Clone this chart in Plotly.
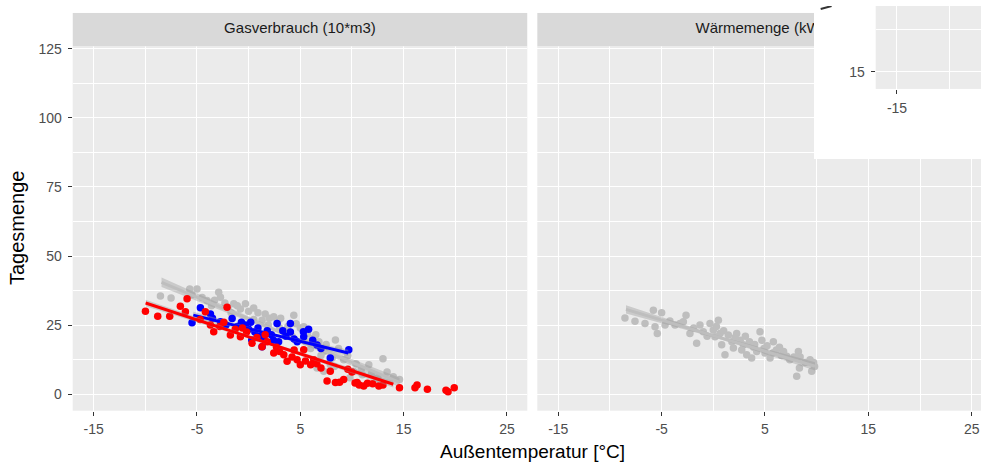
import plotly.graph_objects as go

W, H = 981, 464

# ---------------- data ----------------
# Gas consumption panel: all days (grey), season A (blue), season B (red)
gas_all_t = [-8.54, -7.51, -5.7, -5.0, -5.5, -4.5, -4.03, -3.6, -2.9, -2.73, -2.3, -2.0, -1.44,
             -1.1, -0.8, -0.31, 0.0, 0.49, 0.9, 1.3, 1.6, 2.0, 2.43, 2.8, 3.1, 3.4, 3.8, 4.37,
             4.6, 5.0, 5.33, 5.7, 6.14, 6.5, 6.8, 7.27, 7.5, 8.08, 8.4, 8.7, 9.2, 9.6, 10.17,
             10.4, 10.9, 11.63, 11.9, 12.5, 13.0, 13.4, 14.0, 14.6, 6.62, 7.27, 7.9, 8.3, 9.8,
             11.0, 12.4, -3.3, -1.7, 0.5, 1.9, 3.0, 4.2, 5.5, 6.0, 7.0]
gas_all_v = [35.5, 34.8, 38.1, 38.1, 36.0, 35.0, 33.9, 32.0, 36.9, 35.1, 33.0, 31.5, 32.7,
             32.0, 30.8, 32.7, 30.0, 31.2, 29.5, 26.8, 29.0, 27.5, 28.0, 26.0, 27.5, 22.6,
             24.5, 28.6, 25.5, 24.0, 24.4, 22.0, 20.2, 21.5, 19.0, 15.5, 18.0, 13.1, 19.6,
             16.5, 12.5, 14.0, 8.3, 11.0, 9.0, 10.7, 7.5, 6.0, 12.8, 8.0, 6.3, 5.3, 9.5, 8.3,
             10.7, 10.0, 6.0, 7.0, 5.0, 34.0, 29.5, 27.0, 25.0, 24.0, 21.0, 19.0, 16.5, 14.0]

gas_a_t = [-5.48, -4.67, -3.7, -3.5, -2.73, -2.2, -1.6, -1.1, -0.7, -0.31, 0.0, 0.2, 0.3, 0.6,
           0.9, 1.1, 1.46, 1.3, 1.8, 2.2, 2.4, 2.75, 2.9, 3.3, 3.6, 4.04, 4.04, 4.4, 4.7, 5.33,
           5.3, 5.8, 6.2, 6.62, 7.0, 7.9, 9.69]
gas_a_v = [25.9, 31.3, 29.0, 27.5, 26.2, 25.0, 27.4, 24.5, 26.0, 25.0, 23.5, 26.0, 19.6, 22.5,
           24.0, 21.0, 20.2, 17.2, 23.0, 21.5, 19.5, 25.6, 19.0, 23.0, 21.0, 25.6, 22.5, 20.0,
           19.0, 20.8, 22.6, 23.5, 19.5, 17.8, 16.5, 13.1, 16.1]

gas_b_t = [-9.99, -8.8, -7.64, -6.61, -5.96, -6.12, -4.19, -3.7, -3.38, -2.8, -2.09, -2.4,
           -1.77, -1.3, -0.8, -0.2, 0.33, 0.8, 1.3, 1.8, 2.43, 2.7, 3.0, 3.4, 3.72, 4.2, 4.69,
           5.0, 5.33, 5.5, 6.0, 6.3, 6.6, 7.0, 7.59, 7.9, 8.4, 8.8, 9.2, 9.6, 10.0, 10.3, 10.5,
           10.7, 11.14, 11.5, 12.0, 12.6, 13.0, 14.6, 16.1, 16.3, 17.3, 19.1, 19.3, 19.9,
           -4.7, -0.6, 1.6, 4.4]
gas_b_v = [30.0, 28.2, 28.2, 31.8, 34.5, 29.8, 29.8, 25.0, 22.6, 24.5, 31.5, 26.0, 21.4,
           23.5, 20.8, 22.5, 18.4, 20.5, 17.2, 19.0, 14.9, 17.0, 15.5, 14.3, 11.9, 13.5, 12.5,
           10.7, 16.1, 12.0, 10.7, 12.5, 11.0, 9.5, 4.8, 8.3, 4.2, 4.3, 5.3, 9.0, 8.0, 4.1,
           4.2, 3.3, 3.0, 4.0, 3.8, 3.0, 3.3, 2.3, 2.3, 3.3, 1.8, 1.4, 0.9, 2.3, 27.0, 24.0,
           21.5, 16.0]

# Heat quantity panel: all days (grey)
heat_t = [-8.55, -7.58, -6.61, -5.8, -5.64, -5.42, -5.0, -4.67, -3.71, -3.22, -2.64, -2.9,
          -2.26, -1.61, -1.29, -0.97, -0.32, 0.0, 0.49, 0.16, 0.65, 0.81, 1.13, 1.45, 1.8,
          1.94, 2.26, 2.6, 2.75, 2.91, 3.23, 3.5, 3.71, 3.9, 4.2, 4.52, 4.7, 5.0, 5.2, 5.49,
          5.81, 6.1, 6.4, 6.6, 7.1, 7.4, 7.8, 8.23, 8.4, 8.33, 8.07, 8.9, 9.36, 9.7, 9.52,
          9.8, -4.2, -1.9, -0.6, 0.3, 1.0, 2.1, 3.1, 4.0, 4.9, 5.8, 6.8]
heat_v = [27.6, 26.4, 25.6, 30.4, 24.4, 22.0, 29.5, 25.0, 25.0, 25.6, 28.6, 26.2, 22.0, 18.4,
          25.0, 22.6, 25.6, 23.2, 26.8, 20.8, 22.0, 17.9, 14.3, 21.4, 19.0, 16.7, 22.0, 19.5,
          16.0, 17.9, 14.3, 19.0, 13.1, 17.0, 15.5, 22.6, 19.5, 14.9, 17.5, 13.1, 19.0, 16.0,
          17.0, 14.0, 13.7, 12.5, 13.5, 15.5, 13.5, 9.5, 6.5, 11.5, 12.5, 11.5, 8.3, 10.0,
          26.5, 24.0, 21.0, 24.5, 23.0, 20.5, 21.0, 18.0, 16.5, 15.0, 15.5]

# Linear fits: end points and confidence half-widths (ends, middle)
fit_gas_all = dict(t=[-8.43, 14.6], v=[40.5, 4.3], hw=[1.7, 0.6])
fit_gas_a = dict(t=[-5.36, 9.64], v=[28.6, 14.9], hw=[1.2, 0.5])
fit_gas_b = dict(t=[-9.97, 14.0], v=[33.0, 3.6], hw=[1.2, 0.5])
fit_heat = dict(t=[-8.45, 9.84], v=[30.7, 10.1], hw=[1.5, 0.5])

temp_ticks = [-15, -5, 5, 15, 25]
temp_minor = [-10, 0, 10, 20]
amount_ticks = [0, 25, 50, 75, 100, 125]
amount_minor = [12.5, 37.5, 62.5, 87.5, 112.5]

facet_labels = ["Gasverbrauch (10*m3)", "Wärmemenge (kWh)"]
x_title = "Außentemperatur [°C]"
y_title = "Tagesmenge"

GREY, BLUE, RED = "#BEBEBE", "#0000FF", "#FF0000"
BAND = "rgba(153,153,153,0.4)"
FONT = "Liberation Sans, Arial, sans-serif"


def px_x(p):
    return p / W


def px_y(p):
    return 1 - p / H


def labels(vals):
    # ASCII hyphen for negative numbers
    return [str(v) for v in vals]


fig = go.Figure()


def add_fit(fit, color, xa, ya):
    t0, t1 = fit["t"]
    v0, v1 = fit["v"]
    tm, vm = (t0 + t1) / 2, (v0 + v1) / 2
    he, hm = fit["hw"]
    bx = [t0, tm, t1, t1, tm, t0, t0]
    by = [v0 + he, vm + hm, v1 + he, v1 - he, vm - hm, v0 - he, v0 + he]
    fig.add_trace(go.Scatter(x=bx, y=by, fill="toself", fillcolor=BAND, mode="lines",
                             line=dict(width=0), hoverinfo="skip",
                             showlegend=False, xaxis=xa, yaxis=ya))
    fig.add_trace(go.Scatter(x=fit["t"], y=fit["v"], mode="lines",
                             line=dict(color=color, width=3), showlegend=False,
                             xaxis=xa, yaxis=ya))


def add_points(t, v, color, xa, ya):
    fig.add_trace(go.Scatter(x=t, y=v, mode="markers",
                             marker=dict(color=color, size=7.5, line=dict(width=0)),
                             showlegend=False, xaxis=xa, yaxis=ya))


# panel 1
add_points(gas_all_t, gas_all_v, GREY, "x", "y")
add_fit(fit_gas_all, GREY, "x", "y")
add_points(gas_a_t, gas_a_v, BLUE, "x", "y")
add_fit(fit_gas_a, BLUE, "x", "y")
add_points(gas_b_t, gas_b_v, RED, "x", "y")
add_fit(fit_gas_b, RED, "x", "y")
# panel 2
add_points(heat_t, heat_v, GREY, "x2", "y2")
add_fit(fit_heat, GREY, "x2", "y2")

# facet strips (drawn as traces on their own axes)
strip_dom_y = [px_y(41), px_y(7)]
for i, (xa, ya, cx) in enumerate([("x3", "y3", 0.5), ("x4", "y4", 0.5125)]):
    fig.add_trace(go.Scatter(x=[0, 1, 1, 0, 0], y=[0, 0, 1, 1, 0], fill="toself",
                             fillcolor="#D9D9D9", mode="lines", line=dict(width=0),
                             hoverinfo="skip", showlegend=False, xaxis=xa, yaxis=ya))
    fig.add_trace(go.Scatter(x=[cx], y=[0.5], mode="text", text=[facet_labels[i]],
                             textfont=dict(family=FONT, size=15, color="#1A1A1A"),
                             textposition="middle center", hoverinfo="skip",
                             showlegend=False, xaxis=xa, yaxis=ya))

# white box of the overlapping inset
fig.add_trace(go.Scatter(x=[0, 1, 1, 0, 0], y=[0, 0, 1, 1, 0], fill="toself",
                         fillcolor="white", mode="lines", line=dict(width=0),
                         hoverinfo="skip", showlegend=False, xaxis="x5", yaxis="y5"))
fig.add_trace(go.Scatter(x=[0.04, 0.105], y=[0.98, 1.0], mode="lines",
                         line=dict(color="#333333", width=2), hoverinfo="skip",
                         showlegend=False, xaxis="x5", yaxis="y5"))
# inset panel (empty axes)
fig.add_trace(go.Scatter(x=[None], y=[None], mode="markers", showlegend=False,
                         xaxis="x6", yaxis="y6"))

axis_common = dict(
    showline=False, zeroline=False, showgrid=True, gridcolor="white", gridwidth=1.4,
    ticks="outside", ticklen=4, tickwidth=1.1, tickcolor="#333333",
    tickfont=dict(family=FONT, size=14, color="#4D4D4D"),
)
minor_grid = dict(showgrid=True, gridcolor="white", gridwidth=0.7, ticks="")


def x_axis(domain, rng, anchor):
    return dict(domain=domain, range=rng, tickmode="array", tickvals=temp_ticks,
                ticktext=labels(temp_ticks), minor=dict(tickvals=temp_minor, **minor_grid),
                anchor=anchor, ticklabelstandoff=2, **axis_common)


dom_y = [px_y(410), px_y(41)]
fig.update_layout(
    width=W, height=H, margin=dict(l=0, r=0, t=0, b=0),
    paper_bgcolor="white", plot_bgcolor="#EBEBEB",
    font=dict(family=FONT),
    xaxis=x_axis([px_x(72.7), px_x(527.3)], [-17.03, 26.97], "y"),
    yaxis=dict(domain=dom_y, range=[-5.96, 125.8], tickmode="array", tickvals=amount_ticks,
               ticktext=labels(amount_ticks), minor=dict(tickvals=amount_minor, **minor_grid),
               anchor="x", ticklabelstandoff=3, **axis_common),
    xaxis2=x_axis([px_x(537.3), 1], [-17.03, 25.9], "y2"),
    yaxis2=dict(domain=dom_y, range=[-5.96, 125.8], tickmode="array", tickvals=amount_ticks,
                minor=dict(tickvals=amount_minor, **minor_grid),
                anchor="x2", showline=False, zeroline=False, showgrid=True, gridcolor="white",
                gridwidth=1.4, ticks="", showticklabels=False),
    xaxis3=dict(domain=[px_x(72.7), px_x(527.3)], range=[0, 1], visible=False, anchor="y3"),
    yaxis3=dict(domain=strip_dom_y, range=[0, 1], visible=False, anchor="x3"),
    xaxis4=dict(domain=[px_x(537.3), 1], range=[0, 1], visible=False, anchor="y4"),
    yaxis4=dict(domain=strip_dom_y, range=[0, 1], visible=False, anchor="x4"),
    xaxis5=dict(domain=[px_x(814), 1], range=[0, 1], visible=False, anchor="y5"),
    yaxis5=dict(domain=[px_y(155), 1], range=[0, 1], visible=False, anchor="x5"),
    xaxis6=dict(domain=[px_x(875.7), 1], range=[-17.02, -7.03], tickmode="array",
                tickvals=[-15], ticktext=labels([-15]),
                minor=dict(tickvals=[-10], **minor_grid),
                anchor="y6", ticklabelstandoff=2, **axis_common),
    yaxis6=dict(domain=[px_y(84), 1], range=[12.97, 22.81], tickmode="array",
                tickvals=[15], ticktext=labels([15]),
                minor=dict(tickvals=[20], **minor_grid),
                anchor="x6", ticklabelstandoff=3, **axis_common),
    annotations=[
        dict(text=x_title, x=px_x(532.3), y=px_y(451), xref="paper", yref="paper",
             showarrow=False, xanchor="center", yanchor="middle",
             font=dict(family=FONT, size=19, color="black")),
        dict(text=y_title, x=px_x(17), y=px_y(225), xref="paper", yref="paper",
             showarrow=False, xanchor="center", yanchor="middle", textangle=-90,
             font=dict(family=FONT, size=20, color="black")),
    ],
)

fig.write_html("out.html")
